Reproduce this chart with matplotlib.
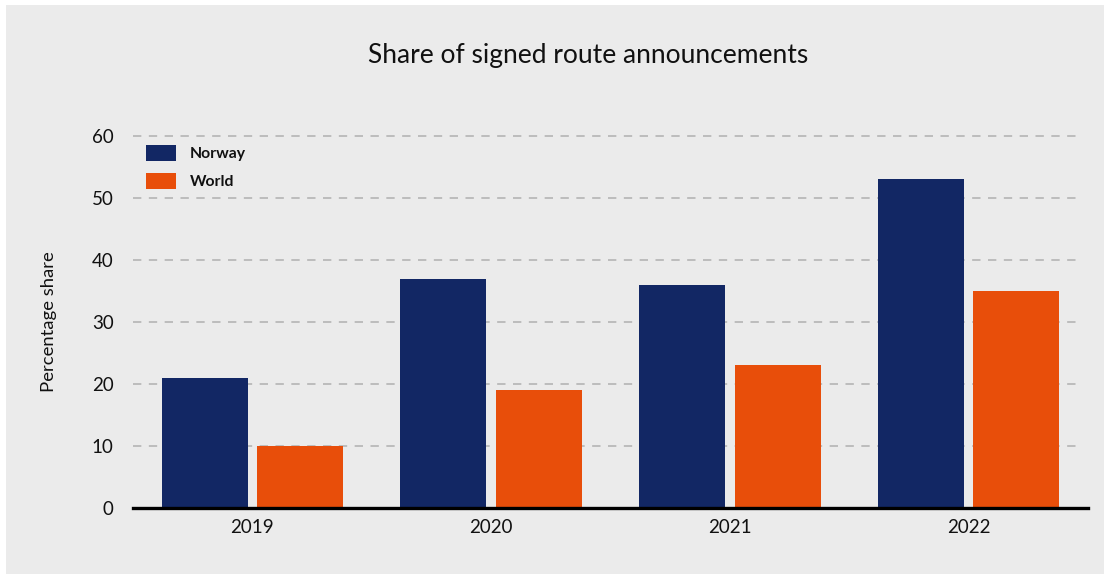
import numpy as np
import matplotlib
matplotlib.use("Agg")
import matplotlib.pyplot as plt
from matplotlib.patches import Rectangle, Patch

plt.rcParams["font.family"] = ["Lato", "DejaVu Sans"]

YEARS = ["2019", "2020", "2021", "2022"]
NORWAY = [21, 37, 36, 53]
WORLD = [10, 19, 23, 35]

NAVY = "#122764"
ORANGE = "#e84e0a"
PANEL = "#ebebeb"
INK = "#111111"

fig = plt.figure(figsize=(11.1, 5.74), dpi=100)
fig.patch.set_facecolor("white")
# grey card behind the chart
fig.patches.append(Rectangle((6 / 1110, 0), 1098 / 1110, 569 / 574,
                             transform=fig.transFigure, facecolor=PANEL,
                             edgecolor="none", zorder=-5))

ax = fig.add_axes([133 / 1110, 66 / 574, 955 / 1110, 372 / 574])
ax.set_zorder(2)
ax.set_facecolor("none")

x = np.arange(len(YEARS))
w = 0.36
ax.bar(x - 0.2, NORWAY, width=w, color=NAVY, zorder=3)
ax.bar(x + 0.2, WORLD, width=w, color=ORANGE, zorder=3)

ax.set_xlim(-0.5, 3.5)
ax.set_ylim(0, 60)
ax.set_yticks(range(0, 61, 10))
ax.set_xticks(x)
ax.set_xticklabels(YEARS)

for y in range(10, 61, 10):
    ax.axhline(y, xmax=0.992, color="#b4b4b4", linewidth=1.2,
               linestyle=(0, (5, 4.5)), zorder=1, clip_on=False)
ax.axhline(0, color="black", linewidth=2.4, zorder=4, clip_on=False)

for s in ax.spines.values():
    s.set_visible(False)
ax.tick_params(axis="both", length=0, labelsize=13.5, colors=INK)
ax.tick_params(axis="y", pad=14)
ax.tick_params(axis="x", pad=8)

ax.set_ylabel("Percentage share", fontsize=13.3, labelpad=25, color=INK)
fig.text(588.5 / 1110, 1 - 56 / 574, "Share of signed route announcements",
         ha="center", va="center", fontsize=19, color=INK)

handles = [Patch(facecolor=NAVY, label="Norway"), Patch(facecolor=ORANGE, label="World")]
leg = ax.legend(handles=handles, loc="upper left",
                bbox_to_anchor=(13 / 955, (508 - 145) / 372),
                borderaxespad=0, borderpad=0,
                frameon=False, handlelength=1.91, handleheight=1.2,
                handletextpad=0.9, labelspacing=0.72,
                prop={"weight": "bold", "size": 11.3})
for t in leg.get_texts():
    t.set_color(INK)

fig.savefig("out.png", dpi=100, facecolor=fig.get_facecolor())
